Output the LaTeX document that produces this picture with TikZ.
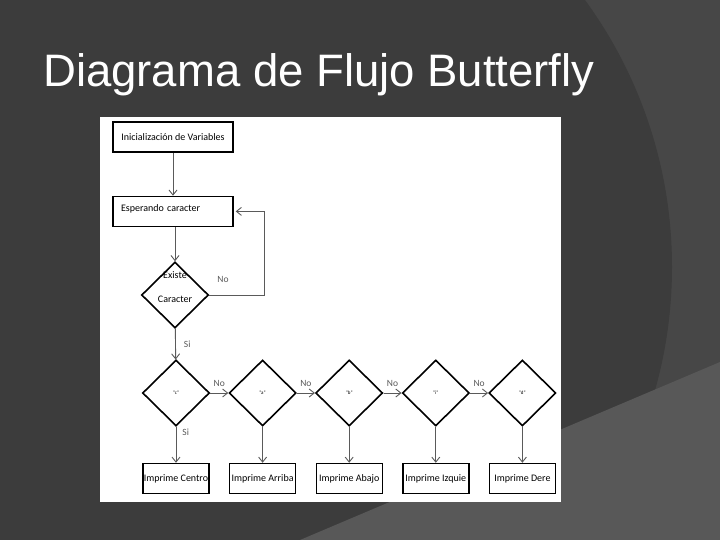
\documentclass[tikz,border=0pt]{standalone}
\usepackage{fontspec}
\setmainfont{Carlito}
\newfontfamily\titlefont{Liberation Sans}
\usetikzlibrary{arrows.meta,positioning,shapes.geometric}

\definecolor{slidedark}{HTML}{3C3C3C}
\definecolor{slideside}{HTML}{474747}
\definecolor{slidefoot}{HTML}{585858}
\definecolor{wiregray}{HTML}{5A5A5A}

\begin{document}
\begin{tikzpicture}[
    x=1pt, y=-1pt,
    title/.style={anchor=base west, inner sep=0pt, text=white, font=\titlefont\fontsize{45.5}{50}\selectfont},
    stepbox/.style={rectangle, draw=black, line width=1.4pt, fill=white, minimum width=120pt, minimum height=30pt, inner sep=0pt, align=center, font=\fontsize{10}{12}\selectfont},
    outbox/.style={stepbox, minimum width=66pt},
    decision/.style={diamond, draw=black, line width=1.6pt, fill=white, aspect=1, minimum width=67pt, minimum height=66pt, inner sep=0pt, font=\fontsize{5}{6}\selectfont},
    txt/.style={inner sep=0pt, font=\fontsize{10}{12}\selectfont},
    metric/.style={inner sep=0pt, font=\fontsize{9.5}{11}\selectfont},
    arrow/.style={-{Straight Barb[length=5pt, width=8pt]}, line width=0.9pt, wiregray},
]
\useasboundingbox (0,0) rectangle (720,540);

% Slide background
\begin{scope}
\clip (0,0) rectangle (720,540);
\fill[slideside] (0,0) rectangle (720,540);
\fill[slidedark] (219,267) circle[radius=453];
\fill[slidefoot] (300,540) -- (720,362) -- (720,540) -- cycle;
\end{scope}

\node[title] (title) at (43,87) {Diagrama de Flujo Butterfly};

% White sheet
\fill[white] (100,117) rectangle (561,502);

% Start
\node[stepbox] (init) at (173,137) {Inicialización de Variables};
\node[stepbox, text width=104pt, align=left, text depth=7pt, below=43pt of init] (wait) {Esperando caracter};
\draw[arrow] (init) -- (wait);

% Read check
\node[decision] (exist) at (175,295) {};
\node[txt] (existtop) at (175,275) {Existe};
\node[txt] (existbot) at (175,299) {Caracter};
\coordinate (loop) at (264,295);
\draw[arrow] (wait.south -| exist.north) -- (exist.north);
\draw[arrow] (exist.east) -- node[metric, pos=0.25, above=12pt] {No} (loop) |- ([xshift=2pt]wait.east);

% Key checks
\node[decision] (dc) at (176,393) {"c"};
\node[decision, right=18pt of dc] (da) {"a"};
\node[decision, right=18pt of da] (db) {"b"};
\node[decision, right=18pt of db] (di) {"i"};
\node[decision, right=18pt of di] (dd) {"d"};

\draw[arrow] (exist) -- node[metric, right=8pt] {Si} (dc);
\draw[arrow] (dc) -- node[metric, above=6pt] {No} (da);
\draw[arrow] (da) -- node[metric, above=6pt] {No} (db);
\draw[arrow] (db) -- node[metric, above=6pt] {No} (di);
\draw[arrow] (di) -- node[metric, above=6pt] {No} (dd);

% Outputs
\node[outbox, below=36pt of dc] (pc) {Imprime Centro};
\node[outbox, below=36pt of da] (pa) {Imprime Arriba};
\node[outbox, below=36pt of db] (pb) {Imprime Abajo};
\node[outbox, below=36pt of di] (pi) {Imprime Izquie};
\node[outbox, below=36pt of dd] (pd) {Imprime Dere};

\draw[arrow] (dc) -- node[metric, pos=0.15, right=6pt] {Si} (pc);
\draw[arrow] (da) -- (pa);
\draw[arrow] (db) -- (pb);
\draw[arrow] (di) -- (pi);
\draw[arrow] (dd) -- (pd);

\end{tikzpicture}
\end{document}
